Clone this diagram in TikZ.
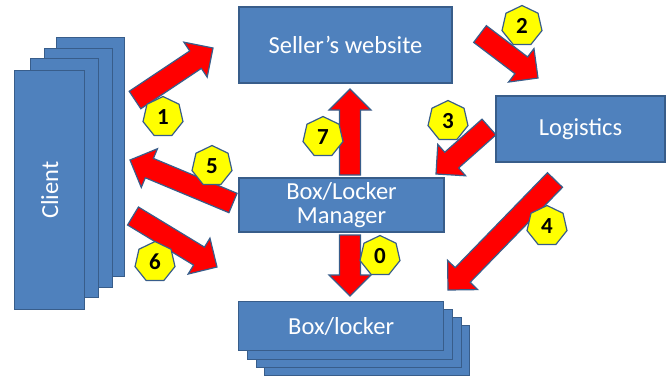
\documentclass[tikz,border=0pt]{standalone}
\usepackage{fontspec}
\setmainfont{Carlito}
\usepackage{tikz}
\usetikzlibrary{shapes,calc}
\definecolor{box_blue}{RGB}{79, 129, 189}
\definecolor{box_edge}{RGB}{56, 93, 138}
\definecolor{arr_red}{RGB}{255, 0, 0}
\definecolor{num_yellow}{RGB}{255, 255, 0}
\tikzstyle{box}=[rectangle,fill=box_blue,draw=box_edge,line width=1.3pt,
  text=white,font=\fontsize{24.5}{24}\selectfont,align=center,inner sep=0pt]
\tikzstyle{arr}=[fill=arr_red,draw=box_edge,line width=1.2pt,line join=miter]
\tikzstyle{num}=[regular polygon,regular polygon sides=7,fill=num_yellow,draw=box_edge,
  line width=1.2pt,inner sep=0pt,minimum size=41pt,font=\fontsize{23}{23}\selectfont\bfseries]
% block arrow from tail (#1) to tip (#2)
\newcommand{\blockarrow}[2]{%
  \coordinate (hb) at ($(#2)!21pt!(#1)$);
  \draw[arr] ($(#1)!10.5pt!90:(#2)$) -- ($(hb)!10.5pt!90:(#2)$) -- ($(hb)!21pt!90:(#2)$)
    -- (#2) -- ($(hb)!21pt!-90:(#2)$) -- ($(hb)!10.5pt!-90:(#2)$) -- ($(#1)!10.5pt!-90:(#2)$) -- cycle;}

\begin{document}
\begin{tikzpicture}[x=1pt,y=-1pt]
    \useasboundingbox (0,0) rectangle (671,376);
    % client stack
    \node [style=box,anchor=north west,minimum width=68pt,minimum height=239pt] (client4) at (56,37) {};
    \node [style=box,anchor=north west,minimum width=68pt,minimum height=239pt] (client3) at (44,48) {};
    \node [style=box,anchor=north west,minimum width=68pt,minimum height=239pt] (client2) at (30,58) {};
    \node [style=box,anchor=north west,minimum width=70pt,minimum height=239pt] (client1) at (14,70) {};
    \node [text=white,font=\fontsize{24.5}{24}\selectfont,rotate=90] (clienttxt) at (client1.center) {Client};
    % box/locker stack
    \node [style=box,anchor=north west,minimum width=205pt,minimum height=50pt] (locker4) at (264,325) {};
    \node [style=box,anchor=north west,minimum width=205pt,minimum height=50pt] (locker3) at (256,317) {};
    \node [style=box,anchor=north west,minimum width=205pt,minimum height=50pt] (locker2) at (247,309) {};
    \node [style=box,anchor=north west,minimum width=205pt,minimum height=49pt] (locker1) at (238,301) {Box/locker};
    % the other boxes
    \node [style=box,minimum width=213pt,minimum height=76pt] (seller) at (345.5,45) {Seller’s website};
    \node [style=box,minimum width=169pt,minimum height=66pt] (logistics) at (580.5,129) {Logistics};
    \node [style=box,minimum width=205pt,minimum height=54pt] (manager) at (341.5,205) {Box/Locker\\Manager};
    % arrow ends
    \coordinate (a1s) at (135,100);  \coordinate (a1e) at (213,48);
    \coordinate (a2s) at (480,34);   \coordinate (a2e) at (538,78);
    \coordinate (a3s) at (489,127);  \coordinate (a3e) at (436,174);
    \coordinate (a4s) at (555,180);  \coordinate (a4e) at (448,290);
    \coordinate (a5s) at (233,203);  \coordinate (a5e) at (130,160);
    \coordinate (a6s) at (133,216);  \coordinate (a6e) at (217,267);
    \coordinate (a7s) at (350,175);  \coordinate (a7e) at (350,89);
    \coordinate (a0s) at (350,235);  \coordinate (a0e) at (350,296);
    \blockarrow{a1s}{a1e}
    \blockarrow{a2s}{a2e}
    \blockarrow{a3s}{a3e}
    \blockarrow{a4s}{a4e}
    \blockarrow{a5s}{a5e}
    \blockarrow{a6s}{a6e}
    \blockarrow{a7s}{a7e}
    \blockarrow{a0s}{a0e}
    % step numbers
    \node [style=num] (n1) at (163,117) {1};
    \node [style=num] (n2) at (522,26) {2};
    \node [style=num] (n3) at (448,121) {3};
    \node [style=num] (n4) at (547,226) {4};
    \node [style=num] (n5) at (212,166) {5};
    \node [style=num] (n6) at (155,262) {6};
    \node [style=num] (n7) at (323,137) {7};
    \node [style=num] (n0) at (380,256) {0};
  \end{tikzpicture}
\end{document}
